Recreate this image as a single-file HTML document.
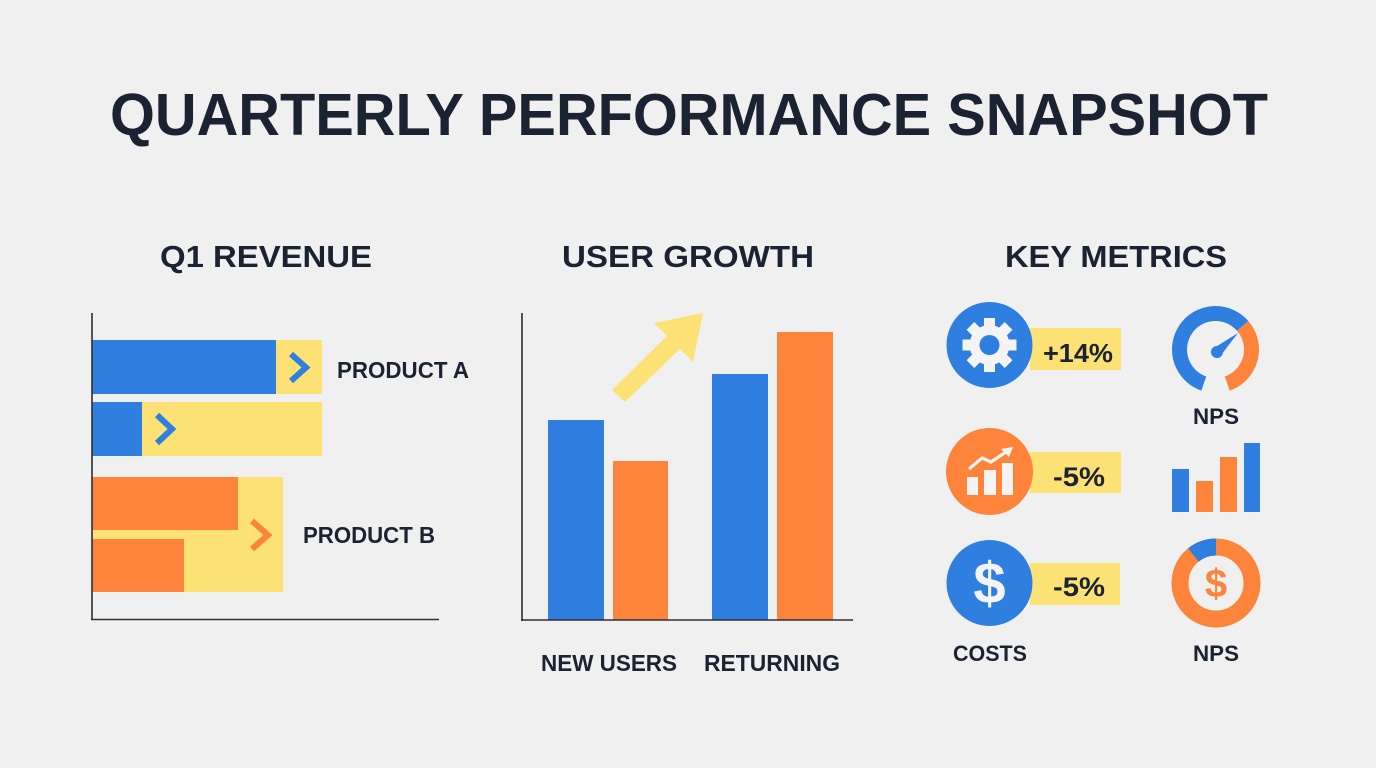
<!DOCTYPE html>
<html>
<head>
<meta charset="utf-8">
<style>
  html,body{margin:0;padding:0;background:#F0F0F0;}
  body{width:1376px;height:768px;overflow:hidden;}
  svg{display:block;}
  text{font-family:"Liberation Sans", Arial, sans-serif;font-weight:bold;fill:#1B2232;}
</style>
</head>
<body>
<svg width="1376" height="768" viewBox="0 0 1376 768" xmlns="http://www.w3.org/2000/svg">
  <rect x="0" y="0" width="1376" height="768" fill="#F0F0F0"/>

  <!-- Title -->
  <text x="110" y="135" font-size="59" textLength="1158" lengthAdjust="spacingAndGlyphs">QUARTERLY PERFORMANCE SNAPSHOT</text>

  <!-- Section headers -->
  <text x="160" y="267" font-size="31" textLength="212" lengthAdjust="spacingAndGlyphs">Q1 REVENUE</text>
  <text x="562" y="267" font-size="31" textLength="252" lengthAdjust="spacingAndGlyphs">USER GROWTH</text>
  <text x="1005" y="267" font-size="31" textLength="222" lengthAdjust="spacingAndGlyphs">KEY METRICS</text>

  <!-- ===== Q1 REVENUE ===== -->
  <!-- yellow backgrounds -->
  <rect x="92" y="340" width="230" height="54" fill="#FCE274"/>
  <rect x="92" y="402" width="230" height="54" fill="#FCE274"/>
  <rect x="92" y="477" width="191" height="115" fill="#FCE274"/>
  <!-- bars -->
  <rect x="92" y="340" width="184" height="54" fill="#2F7FE0"/>
  <rect x="92" y="402" width="50" height="54" fill="#2F7FE0"/>
  <rect x="92" y="477" width="146" height="53" fill="#FD843A"/>
  <rect x="92" y="539" width="92" height="53" fill="#FD843A"/>
  <!-- chevrons -->
  <polyline points="291,354 306,367.5 291,381" fill="none" stroke="#2F7FE0" stroke-width="6"/>
  <polyline points="157,415 172,429 157,443" fill="none" stroke="#2F7FE0" stroke-width="6"/>
  <polyline points="252,521 268,535 252,549" fill="none" stroke="#FD843A" stroke-width="6"/>
  <!-- axes -->
  <line x1="92" y1="313" x2="92" y2="620" stroke="#2B2F36" stroke-width="1.6"/>
  <line x1="91" y1="619.5" x2="439" y2="619.5" stroke="#2B2F36" stroke-width="1.6"/>
  <!-- labels -->
  <text x="337" y="378" font-size="23" textLength="132" lengthAdjust="spacingAndGlyphs">PRODUCT A</text>
  <text x="303" y="543" font-size="23" textLength="132" lengthAdjust="spacingAndGlyphs">PRODUCT B</text>

  <!-- ===== USER GROWTH ===== -->
  <polygon points="612,390 667,336 654,323 703,313 693,362 680,349 625,402" fill="#FCE274"/>
  <rect x="548" y="420" width="56" height="200" fill="#2F7FE0"/>
  <rect x="613" y="461" width="55" height="159" fill="#FD843A"/>
  <rect x="712" y="374" width="56" height="246" fill="#2F7FE0"/>
  <rect x="777" y="332" width="56" height="288" fill="#FD843A"/>
  <line x1="522" y1="313" x2="522" y2="621" stroke="#2B2F36" stroke-width="1.6"/>
  <line x1="521" y1="620" x2="853" y2="620" stroke="#2B2F36" stroke-width="1.6"/>
  <text x="541" y="671" font-size="23" textLength="136" lengthAdjust="spacingAndGlyphs">NEW USERS</text>
  <text x="704" y="671" font-size="23" textLength="136" lengthAdjust="spacingAndGlyphs">RETURNING</text>

  <!-- ===== KEY METRICS ===== -->
  <!-- yellow labels -->
  <rect x="1030" y="328" width="91" height="42" fill="#FCE274"/>
  <rect x="1030" y="452" width="91" height="41" fill="#FCE274"/>
  <rect x="1030" y="563" width="90" height="42" fill="#FCE274"/>
  <text x="1043" y="362" font-size="26" textLength="70" lengthAdjust="spacingAndGlyphs">+14%</text>
  <text x="1053" y="486" font-size="27" textLength="52" lengthAdjust="spacingAndGlyphs">-5%</text>
  <text x="1053" y="596" font-size="27" textLength="52" lengthAdjust="spacingAndGlyphs">-5%</text>

  <!-- gear circle -->
  <circle cx="989.5" cy="345" r="43" fill="#2F7FE0"/>
  <g transform="translate(989.5,345)" fill="#F4F4F4">
    <circle r="20"/>
    <rect x="-5.5" y="-27" width="11" height="12" transform="rotate(0)"/>
    <rect x="-5.5" y="-27" width="11" height="12" transform="rotate(45)"/>
    <rect x="-5.5" y="-27" width="11" height="12" transform="rotate(90)"/>
    <rect x="-5.5" y="-27" width="11" height="12" transform="rotate(135)"/>
    <rect x="-5.5" y="-27" width="11" height="12" transform="rotate(180)"/>
    <rect x="-5.5" y="-27" width="11" height="12" transform="rotate(225)"/>
    <rect x="-5.5" y="-27" width="11" height="12" transform="rotate(270)"/>
    <rect x="-5.5" y="-27" width="11" height="12" transform="rotate(315)"/>
    <circle r="10" fill="#2F7FE0"/>
  </g>

  <!-- chart circle -->
  <circle cx="989.5" cy="471.5" r="43.5" fill="#FD843A"/>
  <g fill="#F4F4F4">
    <rect x="967" y="477" width="11" height="18"/>
    <rect x="984" y="470" width="12" height="25"/>
    <rect x="1002" y="463" width="11" height="32"/>
  </g>
  <polyline points="969,469 982,458 991,462 1006,452" fill="none" stroke="#F4F4F4" stroke-width="3.2" stroke-linejoin="round"/>
  <polygon points="1013,447 1001,449 1009,457" fill="#F4F4F4"/>

  <!-- dollar circle -->
  <circle cx="989.5" cy="583" r="43" fill="#2F7FE0"/>
  <text x="989.5" y="603" font-size="58" text-anchor="middle" style="fill:#F4F4F4">$</text>
  <text x="953" y="661" font-size="22" textLength="74" lengthAdjust="spacingAndGlyphs">COSTS</text>

  <!-- gauge -->
  <path d="M1203.78,383.54 A36,36 0 1 1 1242.67,325.88" fill="none" stroke="#2F7FE0" stroke-width="15"/>
  <path d="M1242.67,325.88 A36,36 0 0 1 1227.22,383.54" fill="none" stroke="#FD843A" stroke-width="15"/>
  <circle cx="1217" cy="352" r="6" fill="#2F7FE0"/>
  <polygon points="1238,333 1220.5,355.8 1213.5,348.2" fill="#2F7FE0"/>
  <text x="1193" y="424" font-size="22" textLength="46" lengthAdjust="spacingAndGlyphs">NPS</text>

  <!-- small bar chart -->
  <rect x="1172" y="469" width="17" height="43" fill="#2F7FE0"/>
  <rect x="1196" y="481" width="17" height="31" fill="#FD843A"/>
  <rect x="1220" y="457" width="17" height="55" fill="#FD843A"/>
  <rect x="1244" y="443" width="16" height="69" fill="#2F7FE0"/>

  <!-- donut -->
  <circle cx="1216" cy="583" r="36" fill="none" stroke="#FD843A" stroke-width="17"/>
  <path d="M1193.35,555.02 A36,36 0 0 1 1216,547" fill="none" stroke="#2F7FE0" stroke-width="17"/>
  <text x="1216" y="597" font-size="40" text-anchor="middle" style="fill:#FD843A">$</text>
  <text x="1193" y="661" font-size="22" textLength="46" lengthAdjust="spacingAndGlyphs">NPS</text>
</svg>
</body>
</html>
